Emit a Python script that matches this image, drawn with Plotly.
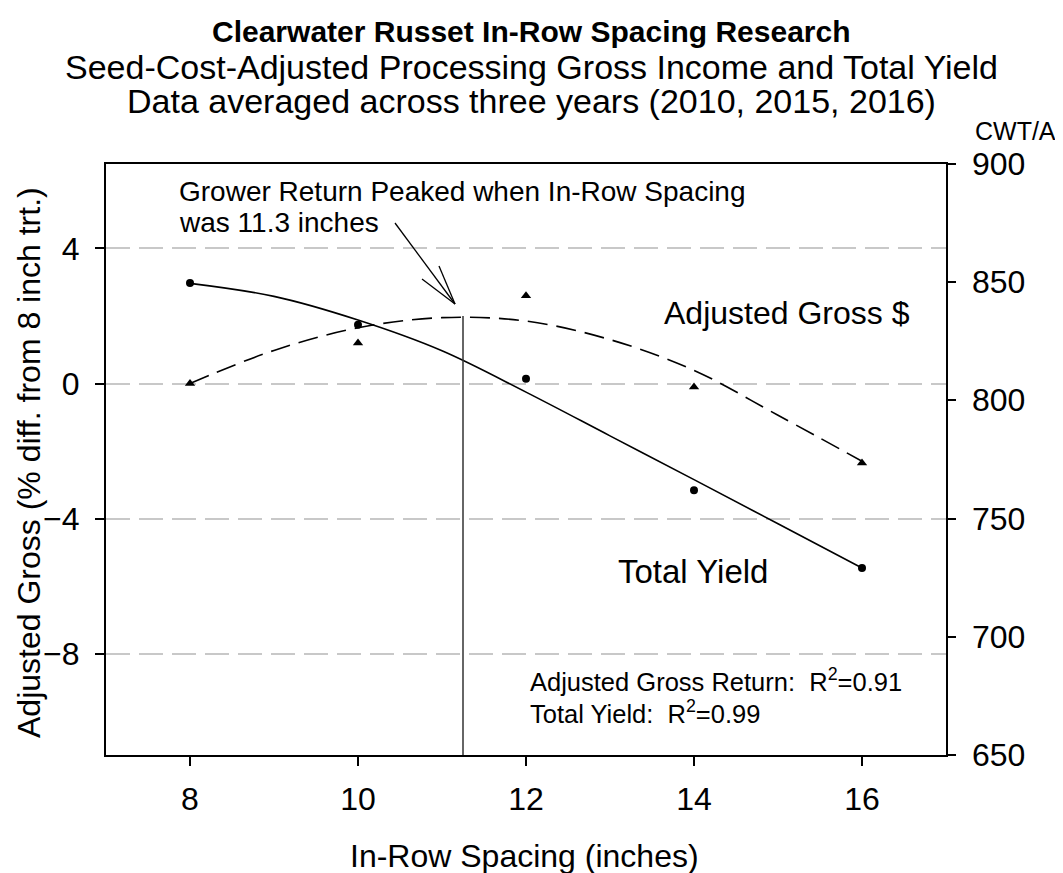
import plotly.graph_objects as go

spacing = [8, 10, 12, 14, 16]
gross_pct = [0.0, 1.2, 2.6, -0.1, -2.35]
yield_cwt = [849.7, 832.0, 809.2, 762.0, 729.1]

# fitted curves, read at whole inches
fit_x = [8, 9, 10, 11, 12, 13, 14, 15, 16]
gross_fit = [0.0, 0.98, 1.65, 1.95, 1.85, 1.3, 0.39, -0.94, -2.3]
yield_fit = [849.5, 844.0, 834.0, 821.0, 803.5, 785.0, 766.5, 747.8, 729.1]

right_ticks = [650, 700, 750, 800, 850, 900]

peak_x = 11.25
peak_y = 2.0

FONT = "Liberation Sans, Arial, sans-serif"
OFF = 8  # page body margin
W, H = 1063 - OFF, 873 - OFF
PL, PT, PW, PH = 106, 164, 840, 591  # plot box in window pixels
X0, X1 = 7, 17
Y0, Y1 = -11, 6.5


def dx(px):
    return X0 + (px - PL) / PW * (X1 - X0)


def dy(py):
    return Y1 - (py - PT) / PH * (Y1 - Y0)


def paper_x(px):
    return (px - PL) / PW


def paper_y(py):
    return (PT + PH - py) / PH


fig = go.Figure()

fig.add_trace(go.Scatter(
    x=fit_x, y=gross_fit, mode="lines", line_shape="spline",
    line=dict(color="black", width=1.6, dash="20px,9px"),
    showlegend=False, hoverinfo="skip"))
fig.add_trace(go.Scatter(
    x=spacing, y=gross_pct, mode="markers",
    marker=dict(symbol="triangle-up", size=9, color="black"),
    showlegend=False, name="Adjusted Gross $"))
fig.add_trace(go.Scatter(
    x=fit_x, y=yield_fit, mode="lines", line_shape="spline", yaxis="y2",
    line=dict(color="black", width=1.6),
    showlegend=False, hoverinfo="skip"))
fig.add_trace(go.Scatter(
    x=spacing, y=yield_cwt, mode="markers", yaxis="y2",
    marker=dict(symbol="circle", size=8, color="black"),
    showlegend=False, name="Total Yield"))

# peak marker line and arrow
shapes = [
    dict(type="line", xref="x", yref="y", x0=peak_x, x1=peak_x, y0=Y0, y1=peak_y,
         line=dict(color="#333333", width=1.5)),
]
tip = (455, 304)
for start in [(395, 223), (422, 279), (439, 266)]:
    shapes.append(dict(type="line", xref="x", yref="y",
                       x0=dx(start[0]), y0=dy(start[1]), x1=dx(tip[0]), y1=dy(tip[1]),
                       line=dict(color="black", width=1.3)))

black = dict(family=FONT, color="black")


def note(text, px, py, size, xanchor="left", **kw):
    return dict(text=text, xref="paper", yref="paper", x=paper_x(px), y=paper_y(py),
                xanchor=xanchor, yanchor="middle", showarrow=False,
                font=dict(size=size, **black), **kw)


annotations = [
    note("<b>Clearwater Russet In-Row Spacing Research</b>", 531, 31, 30, "center"),
    note("Seed-Cost-Adjusted Processing Gross Income and Total Yield", 531, 67, 34, "center"),
    note("Data averaged across three years (2010, 2015, 2016)", 531, 101, 34, "center"),
    note("CWT/A", 1058, 131, 25, "right"),
    note("Grower Return Peaked when In-Row Spacing", 177, 191, 28),
    note("was 11.3 inches", 177, 222, 28),
    note("Adjusted Gross $", 662, 313, 32),
    note("Total Yield", 616, 571, 33),
    note("Adjusted Gross Return:  R<sup>2</sup>=0.91", 528, 680, 25.5),
    note("Total Yield:  R<sup>2</sup>=0.99", 528, 712, 25.5),
    note("In-Row Spacing (inches)", 524, 856, 32, "center"),
    note("Adjusted Gross (% diff. from 8 inch trt.)", 29, 463, 32, "center", textangle=-90),
]

# right axis tick labels (placed as text so the gap to the axis matches)
for v in right_ticks:
    annotations.append(dict(text=str(v), xref="paper", yref="y2", x=paper_x(970), y=v,
                            xanchor="left", yanchor="middle", showarrow=False,
                            font=dict(size=32, **black)))

axis_common = dict(
    showline=True, linecolor="black", linewidth=2,
    ticks="outside", tickwidth=2, tickcolor="black",
    tickfont=dict(size=32, **black), zeroline=False,
)

fig.update_layout(
    width=W, height=H,
    margin=dict(l=PL - OFF, r=W - (PL - OFF) - PW, t=PT - OFF, b=H - (PT - OFF) - PH),
    paper_bgcolor="white", plot_bgcolor="white",
    font=dict(family=FONT, color="black"),
    xaxis=dict(range=[X0, X1], tickvals=[8, 10, 12, 14, 16], ticklen=9,
               showgrid=False, mirror=True, ticklabelstandoff=6, **axis_common),
    yaxis=dict(range=[Y0, Y1], tick0=0, dtick=4, ticklen=9,
               showgrid=True, gridcolor="#c8c8c8", gridwidth=1.5, griddash="24px,9px",
               ticklabelstandoff=9, **axis_common),
    yaxis2=dict(range=[650, 900], tickvals=right_ticks, ticklen=8, overlaying="y",
                side="right", showgrid=False, showticklabels=False, **axis_common),
    shapes=shapes,
    annotations=annotations,
)

fig.write_html("out.html")
